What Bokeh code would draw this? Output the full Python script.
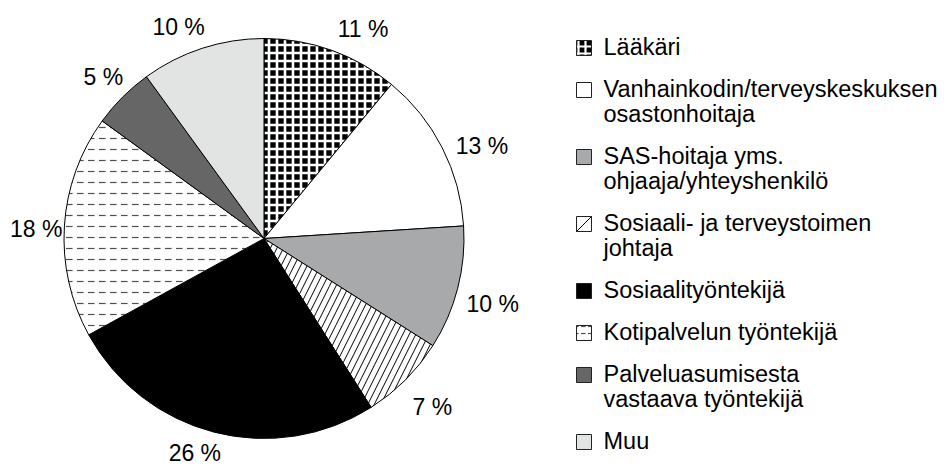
import numpy as np
from bokeh.plotting import figure
from bokeh.models import Range1d, ColumnDataSource
from bokeh.embed import file_html
from bokeh.resources import INLINE
from bokeh.core.properties import value

# ---- data ----
categories = [
    "Lääkäri",
    "Vanhainkodin/terveyskeskuksen\nosastonhoitaja",
    "SAS-hoitaja yms.\nohjaaja/yhteyshenkilö",
    "Sosiaali- ja terveystoimen\njohtaja",
    "Sosiaalityöntekijä",
    "Kotipalvelun työntekijä",
    "Palveluasumisesta\nvastaava työntekijä",
    "Muu",
]
shares = [11, 13, 10, 7, 26, 18, 5, 10]

# ---- styles ----
fills = ["black", "white", "#a8a9ab", "white", "black", "white", "#666666", "#e2e3e3"]
hatches = ["+", " ", " ", "/", " ", '"', " ", " "]
hatch_colors = ["white", "black", "black", "black", "black", "#505050", "black", "black"]
hatch_scales = [8, 8, 8, 13, 8, 11, 8, 8]
hatch_weights = [2.6, 1, 1, 1, 1, 1.2, 1, 1]
label_nudge_deg = [-5.5, -3.9, -1.6, 0, -3.5, 1.1, -0.2, 4.0]
label_radius = [232, 237, 238, 238, 225, 228, 228, 228]

FONT = "Liberation Sans"
W, H = 949, 468
CX, CY, R = 263.5, 230.0, 200.0

p = figure(width=W, height=H, output_backend="svg", toolbar_location=None,
           x_range=Range1d(0, W), y_range=Range1d(0, H), min_border=0,
           outline_line_color=None)
p.axis.visible = False
p.grid.visible = False
p.background_fill_color = "white"
p.border_fill_color = "white"

vals = np.array(shares, dtype=float)
total = vals.sum()
cum = np.cumsum(vals)
start = np.pi / 2 - 2 * np.pi * (cum - vals) / total
end = np.pi / 2 - 2 * np.pi * cum / total
mid = (start + end) / 2

src = ColumnDataSource(dict(
    start=start, end=end, fill=fills, hatch=hatches, hcol=hatch_colors,
    hscale=hatch_scales, hweight=hatch_weights,
))
p.wedge(x=CX, y=CY, radius=R, start_angle="start", end_angle="end",
        direction="clock", source=src, fill_color="fill", line_color="black",
        line_width=1, hatch_pattern="hatch", hatch_color="hcol",
        hatch_scale="hscale", hatch_weight="hweight")

# percentage labels
la = mid + np.radians(label_nudge_deg)
lr = np.array(label_radius, dtype=float)
p.text(x=CX + lr * np.cos(la), y=CY + lr * np.sin(la),
       text=[f"{int(v)} %" for v in shares], text_font=value(FONT),
       text_font_size="23px", text_align="center", text_baseline="middle",
       text_color="black")

# legend
LEG_ICON_X = 583.5
LEG_TEXT_X = 603.0
LEG_TOP = H - 46.0
LINE_H = 25.0
ENTRY_GAP = 42.0
ICON = 15

y = LEG_TOP
icon_y = []
txt_x, txt_y, txt = [], [], []
for cat in categories:
    lines = cat.split("\n")
    icon_y.append(y - 1.5)
    for i, ln in enumerate(lines):
        txt_x.append(LEG_TEXT_X)
        txt_y.append(y - i * LINE_H)
        txt.append(ln)
    y -= (len(lines) - 1) * LINE_H + ENTRY_GAP

leg_hatch = [h if h != "/" else " " for h in hatches]
leg_src = ColumnDataSource(dict(
    x=[LEG_ICON_X] * len(categories), y=icon_y, fill=fills, hatch=leg_hatch,
    hcol=hatch_colors, hscale=[7, 8, 8, 15, 8, 7, 8, 8],
    hweight=[2.2, 1, 1, 1, 1, 1.2, 1, 1],
))
p.rect(x="x", y="y", width=ICON, height=ICON, source=leg_src,
       fill_color="fill", line_color="#222222", line_width=1,
       hatch_pattern="hatch", hatch_color="hcol", hatch_scale="hscale",
       hatch_weight="hweight")
# single diagonal for the line-hatched legend swatch
diag = [i for i, h in enumerate(hatches) if h == "/"]
p.segment(x0=[LEG_ICON_X - ICON / 2 for i in diag], y0=[icon_y[i] - ICON / 2 for i in diag],
          x1=[LEG_ICON_X + ICON / 2 for i in diag], y1=[icon_y[i] + ICON / 2 for i in diag],
          line_color="black", line_width=1)
p.text(x=txt_x, y=txt_y, text=txt, text_font=value(FONT), text_font_size="23.5px",
       text_align="left", text_baseline="middle", text_color="black")

open("out.html", "w").write(file_html(p, INLINE))
